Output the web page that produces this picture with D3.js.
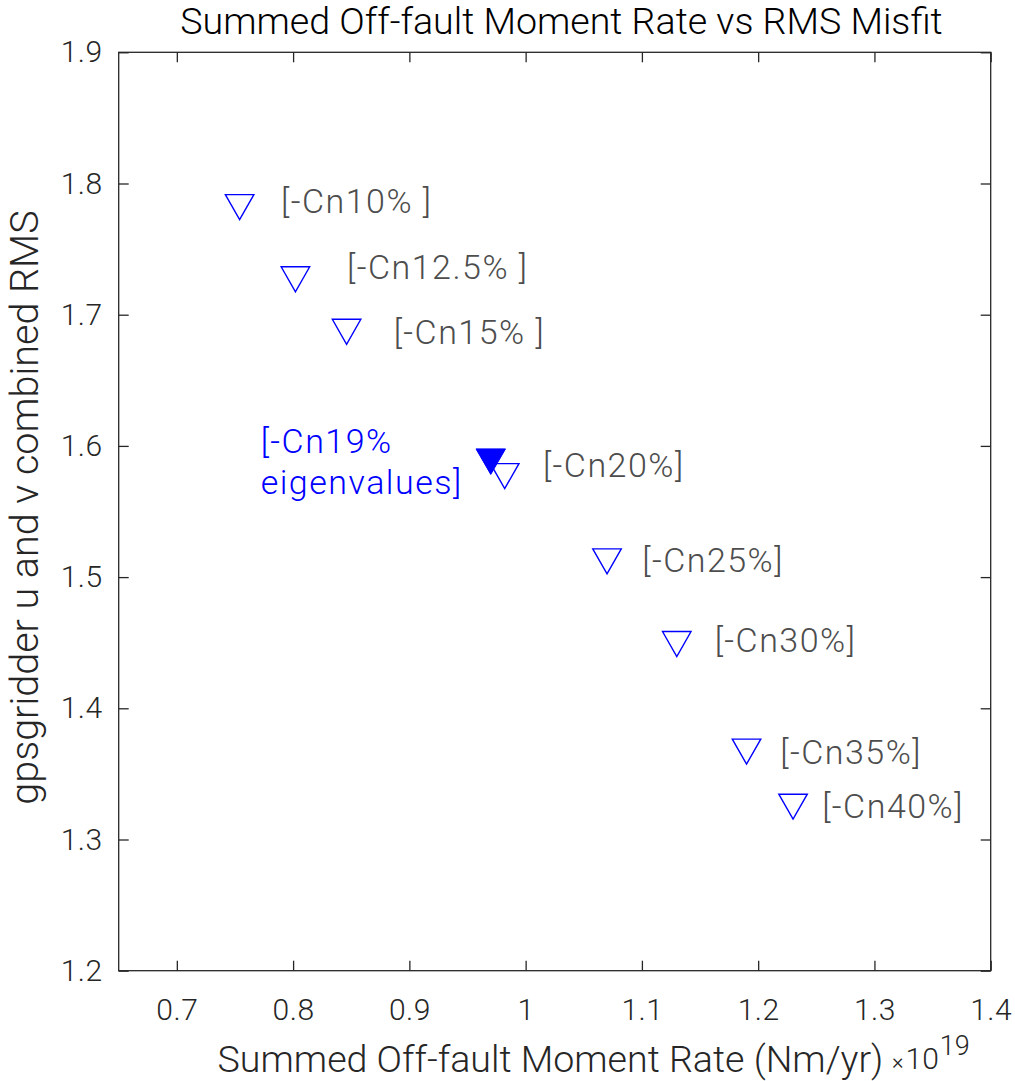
<!DOCTYPE html>
<html>
<head>
<meta charset="utf-8">
<script src="https://cdn.jsdelivr.net/npm/d3@7"></script>
<style>
  body { margin: 0; background: #fff; }
  svg text { font-family: Roboto, "Liberation Sans", Arial, sans-serif; font-weight: 300; }
</style>
</head>
<body>
<svg id="chart" width="1015" height="1081"></svg>
<script>
// marker data (moment rate x1e19, RMS)
let runNames = ['Cn10', 'Cn12.5', 'Cn15', 'Cn20', 'Cn25', 'Cn30', 'Cn35', 'Cn40'];
let momentRate = [0.754, 0.802, 0.846, 0.982, 1.070, 1.130, 1.190, 1.230];
let rmsMisfit = [1.782, 1.727, 1.687, 1.577, 1.512, 1.449, 1.367, 1.325];

// the chosen run
let bestMoment = 0.970;
let bestRms = 1.588;

// label texts and where they sit (data units)
let labelTexts = ['[-Cn10% ]', '[-Cn12.5% ]', '[-Cn15% ]', '[-Cn20%]', '[-Cn25%]', '[-Cn30%]', '[-Cn35%]', '[-Cn40%]'];
let labelX = [0.7896, 0.8464, 0.8865, 1.0149, 1.1003, 1.1626, 1.219, 1.2551];
let labelY = [1.7846, 1.7341, 1.6848, 1.583, 1.5112, 1.4497, 1.3642, 1.3236];
let bestLabel = ['[-Cn19%', 'eigenvalues]'];
let bestLabelX = 0.7721;
let bestLabelY = 1.5861;

let xTicks = [0.7, 0.8, 0.9, 1, 1.1, 1.2, 1.3, 1.4];
let yTicks = [1.2, 1.3, 1.4, 1.5, 1.6, 1.7, 1.8, 1.9];

let plotLeft = 118.7, plotRight = 990.7, plotTop = 52.3, plotBottom = 970.7;
let axisColor = '#262626';
let tickFont = 30, labelFont = 37.6, textFont = 34;

let svg = d3.select('#chart');

let x = d3.scaleLinear().domain([0.65, 1.4]).range([plotLeft, plotRight]);
let y = d3.scaleLinear().domain([1.2, 1.9]).range([plotBottom, plotTop]);

function styleAxis(g, showLabels) {
  g.select('.domain').remove();
  g.selectAll('line').attr('stroke', axisColor).attr('stroke-width', 1.3);
  g.selectAll('text')
    .style('font-size', tickFont + 'px')
    .style('letter-spacing', '0.5px')
    .attr('fill', axisColor);
  if (!showLabels) g.selectAll('text').remove();
}

// axes, ticks pointing inward on all four sides
svg.append('g')
  .attr('transform', `translate(0,${plotBottom})`)
  .call(d3.axisBottom(x).tickValues(xTicks).tickSize(-10).tickPadding(28).tickFormat(d3.format('')))
  .call(g => styleAxis(g, true));

svg.append('g')
  .attr('transform', `translate(0,${plotTop})`)
  .call(d3.axisTop(x).tickValues(xTicks).tickSize(-10))
  .call(g => styleAxis(g, false));

svg.append('g')
  .attr('transform', `translate(${plotLeft},0)`)
  .call(d3.axisLeft(y).tickValues(yTicks).tickSize(-10).tickPadding(16).tickFormat(d3.format('')))
  .call(g => styleAxis(g, true));

svg.append('g')
  .attr('transform', `translate(${plotRight},0)`)
  .call(d3.axisRight(y).tickValues(yTicks).tickSize(-10))
  .call(g => styleAxis(g, false));

// box
svg.append('rect')
  .attr('x', plotLeft)
  .attr('y', plotTop)
  .attr('width', plotRight - plotLeft)
  .attr('height', plotBottom - plotTop)
  .attr('fill', 'none')
  .attr('stroke', axisColor)
  .attr('stroke-width', 1.3);

// downward triangle, centred on its bounding box
function triPath(cx, cy, w, h) {
  return `M${cx - w / 2},${cy - h / 2}L${cx + w / 2},${cy - h / 2}L${cx},${cy + h / 2}Z`;
}

let runs = runNames.map((d, i) => ({name: d, mx: momentRate[i], ry: rmsMisfit[i], label: labelTexts[i], lx: labelX[i], ly: labelY[i]}));

svg.selectAll('path.run')
  .data(runs)
  .enter()
  .append('path')
  .attr('class', 'run')
  .attr('d', d => triPath(x(d.mx), y(d.ry), 28.5, 25))
  .style('fill', 'none')
  .style('stroke', '#0000ff')
  .style('stroke-width', '1.4px')
  .style('stroke-linejoin', 'miter');

svg.append('path')
  .attr('class', 'best')
  .attr('d', triPath(x(bestMoment), y(bestRms), 29.5, 25.5))
  .style('fill', '#0000ff')
  .style('stroke', '#0000ff')
  .style('stroke-width', '1px');

svg.selectAll('text.runLabel')
  .data(runs)
  .enter()
  .append('text')
  .attr('class', 'runLabel')
  .attr('x', d => x(d.lx))
  .attr('y', d => y(d.ly))
  .attr('dy', '0.27em')
  .style('font-size', textFont + 'px')
  .style('letter-spacing', '1.5px')
  .style('fill', '#4d4d4d')
  .style('white-space', 'pre')
  .text(d => d.label);

svg.append('text')
  .attr('x', x(bestLabelX))
  .attr('y', y(bestLabelY))
  .style('font-size', textFont + 'px')
  .style('letter-spacing', '1.5px')
  .style('fill', '#0000ff')
  .selectAll('tspan')
  .data(bestLabel)
  .enter()
  .append('tspan')
  .attr('x', x(bestLabelX))
  .attr('dy', (d, i) => i == 0 ? '-0.335em' : '1.21em')
  .text(d => d);

// title and axis labels
svg.append('text')
  .attr('x', 561.5)
  .attr('y', 34)
  .attr('text-anchor', 'middle')
  .style('font-size', labelFont + 'px')
  .style('fill', '#000')
  .text('Summed Off-fault Moment Rate vs RMS Misfit');

svg.append('text')
  .attr('x', 550.5)
  .attr('y', 1072)
  .attr('text-anchor', 'middle')
  .style('font-size', labelFont + 'px')
  .style('fill', axisColor)
  .text('Summed Off-fault Moment Rate (Nm/yr)');

let expo = svg.append('text')
  .attr('x', 892)
  .attr('y', 1069)
  .style('font-size', tickFont + 'px')
  .style('fill', axisColor);
expo.append('tspan').style('font-size', '22px').text('\u00d7');
expo.append('tspan').attr('dx', 2).text('10');
expo.append('tspan').attr('dy', -14).attr('dx', 1).style('font-size', '27px').text('19');

svg.append('text')
  .attr('transform', `translate(38,507.5) rotate(-90)`)
  .attr('text-anchor', 'middle')
  .style('font-size', '39.5px')
  .style('fill', axisColor)
  .text('gpsgridder u and v combined RMS');
</script>
</body>
</html>
